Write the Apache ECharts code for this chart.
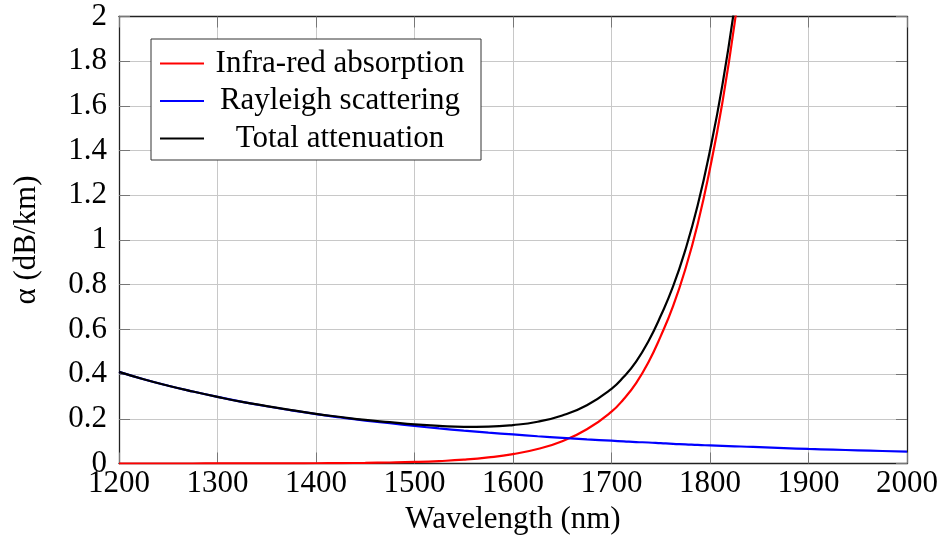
<!DOCTYPE html>
<html>
<head>
<meta charset="utf-8">
<script src="https://cdn.jsdelivr.net/npm/echarts@6/dist/echarts.min.js"></script>
<style>
html,body{margin:0;padding:0;background:#fff;}
#chart{width:942px;height:544px;}
</style>
</head>
<body>
<div id="chart"></div>
<script>
// Wavelength samples (nm)
var wavelengths = [1200,1225,1250,1275,1300,1325,1350,1375,1400,1425,1450,1475,1500,1525,1550,1575,1600,1625,1650,1675,1700,1712.5,1725,1737.5,1750,1762.5,1775,1787.5,1800,1812.5,1825,1837.5,1850,1875,1900,1925,1950,1975,2000];
// Infra-red absorption (dB/km)
var infraRed = [0.0000,0.0000,0.0001,0.0001,0.0002,0.0003,0.0005,0.0008,0.0012,0.0019,0.0029,0.0045,0.007,0.011,0.017,0.027,0.042,0.065,0.100,0.153,0.232,0.289,0.36,0.453,0.57,0.704,0.87,1.072,1.32,1.613,1.97,2.41,2.95,null,null,null,null,null,null];
// Rayleigh scattering (dB/km)
var rayleigh = [0.410,0.377,0.348,0.322,0.298,0.276,0.256,0.238,0.221,0.206,0.192,0.180,0.168,0.157,0.147,0.138,0.130,0.122,0.115,0.108,0.102,0.099,0.096,0.094,0.091,0.088,0.086,0.083,0.081,0.079,0.077,0.075,0.073,0.069,0.065,0.062,0.059,0.056,0.053];
// Total attenuation (dB/km)
var total = [0.410,0.377,0.348,0.322,0.298,0.276,0.257,0.239,0.222,0.208,0.195,0.185,0.175,0.168,0.164,0.165,0.172,0.187,0.215,0.261,0.334,0.388,0.456,0.547,0.661,0.792,0.956,1.155,1.401,1.692,2.047,2.485,3.023,null,null,null,null,null,null];

var seriesNames = ['Infra-red absorption','Rayleigh scattering','Total attenuation'];
var xTicks = {min:1200, max:2000, interval:100};
var yTicks = {min:0, max:2, interval:0.2};

function pairs(vals){
  var out=[];
  for(var i=0;i<wavelengths.length;i++){ if(vals[i]!==null) out.push([wavelengths[i], vals[i]]); }
  return out;
}

var FONT = '"Liberation Serif","Times New Roman",serif';
var FS = 31;
var chart = echarts.init(document.getElementById('chart'), null, {renderer:'canvas'});

var tickStyle = {show:true, inside:true, length:11, lineStyle:{color:'#777', width:1}};
var gridLine = {show:true, lineStyle:{color:'#c8c8c8', width:1}};
var axisLine = {show:true, onZero:false, lineStyle:{color:'#222', width:1.3}};

chart.setOption({
  animation:false,
  backgroundColor:'#fff',
  grid:{left:119, right:35, top:16.5, bottom:80.5, containLabel:false},
  legend:{
    orient:'vertical',
    left:151, top:39,
    data:seriesNames,
    backgroundColor:'#fff',
    borderColor:'#333', borderWidth:1,
    padding:[8,10,5,9],
    itemWidth:44, itemHeight:2, itemGap:4.5,
    icon:'rect',
    formatter:function(n){ return '{t|'+n+'}'; },
    textStyle:{
      fontFamily:FONT, fontSize:FS, color:'#000', lineHeight:33,
      rich:{t:{fontFamily:FONT, fontSize:FS, color:'#000', width:262, align:'center', lineHeight:33}}
    }
  },
  xAxis:[{
    type:'value', min:xTicks.min, max:xTicks.max, interval:xTicks.interval,
    name:'Wavelength (nm)', nameLocation:'middle', nameGap:31,
    nameTextStyle:{fontFamily:FONT, fontSize:FS, color:'#000'},
    axisLine:axisLine, axisTick:tickStyle, splitLine:gridLine,
    axisLabel:{fontFamily:FONT, fontSize:FS, color:'#000', margin:5, formatter:function(v){return String(v);}}
  },{
    type:'value', position:'top', min:xTicks.min, max:xTicks.max, interval:xTicks.interval,
    axisLine:axisLine, axisTick:tickStyle, splitLine:{show:false}, axisLabel:{show:false}
  }],
  yAxis:[{
    type:'value', min:yTicks.min, max:yTicks.max, interval:yTicks.interval,
    name:'α (dB/km)', nameLocation:'middle', nameGap:77,
    nameTextStyle:{fontFamily:FONT, fontSize:FS, color:'#000'},
    axisLine:axisLine, axisTick:tickStyle, splitLine:gridLine,
    axisLabel:{fontFamily:FONT, fontSize:FS, color:'#000', margin:12, formatter:function(v){return String(Math.round(v*10)/10);}}
  },{
    type:'value', position:'right', min:yTicks.min, max:yTicks.max, interval:yTicks.interval,
    axisLine:axisLine, axisTick:tickStyle, splitLine:{show:false}, axisLabel:{show:false}
  }],
  series:[
    {name:seriesNames[0], type:'line', data:pairs(infraRed), showSymbol:false, symbol:'none', smooth:0.5, clip:true,
      lineStyle:{color:'#ff0000', width:2.2}, itemStyle:{color:'#ff0000'}},
    {name:seriesNames[1], type:'line', data:pairs(rayleigh), showSymbol:false, symbol:'none', smooth:0.5, clip:true,
      lineStyle:{color:'#0000ff', width:2.2}, itemStyle:{color:'#0000ff'}},
    {name:seriesNames[2], type:'line', data:pairs(total), showSymbol:false, symbol:'none', smooth:0.5, clip:true,
      lineStyle:{color:'#000000', width:2.2}, itemStyle:{color:'#000000'}}
  ]
});
</script>
</body>
</html>
